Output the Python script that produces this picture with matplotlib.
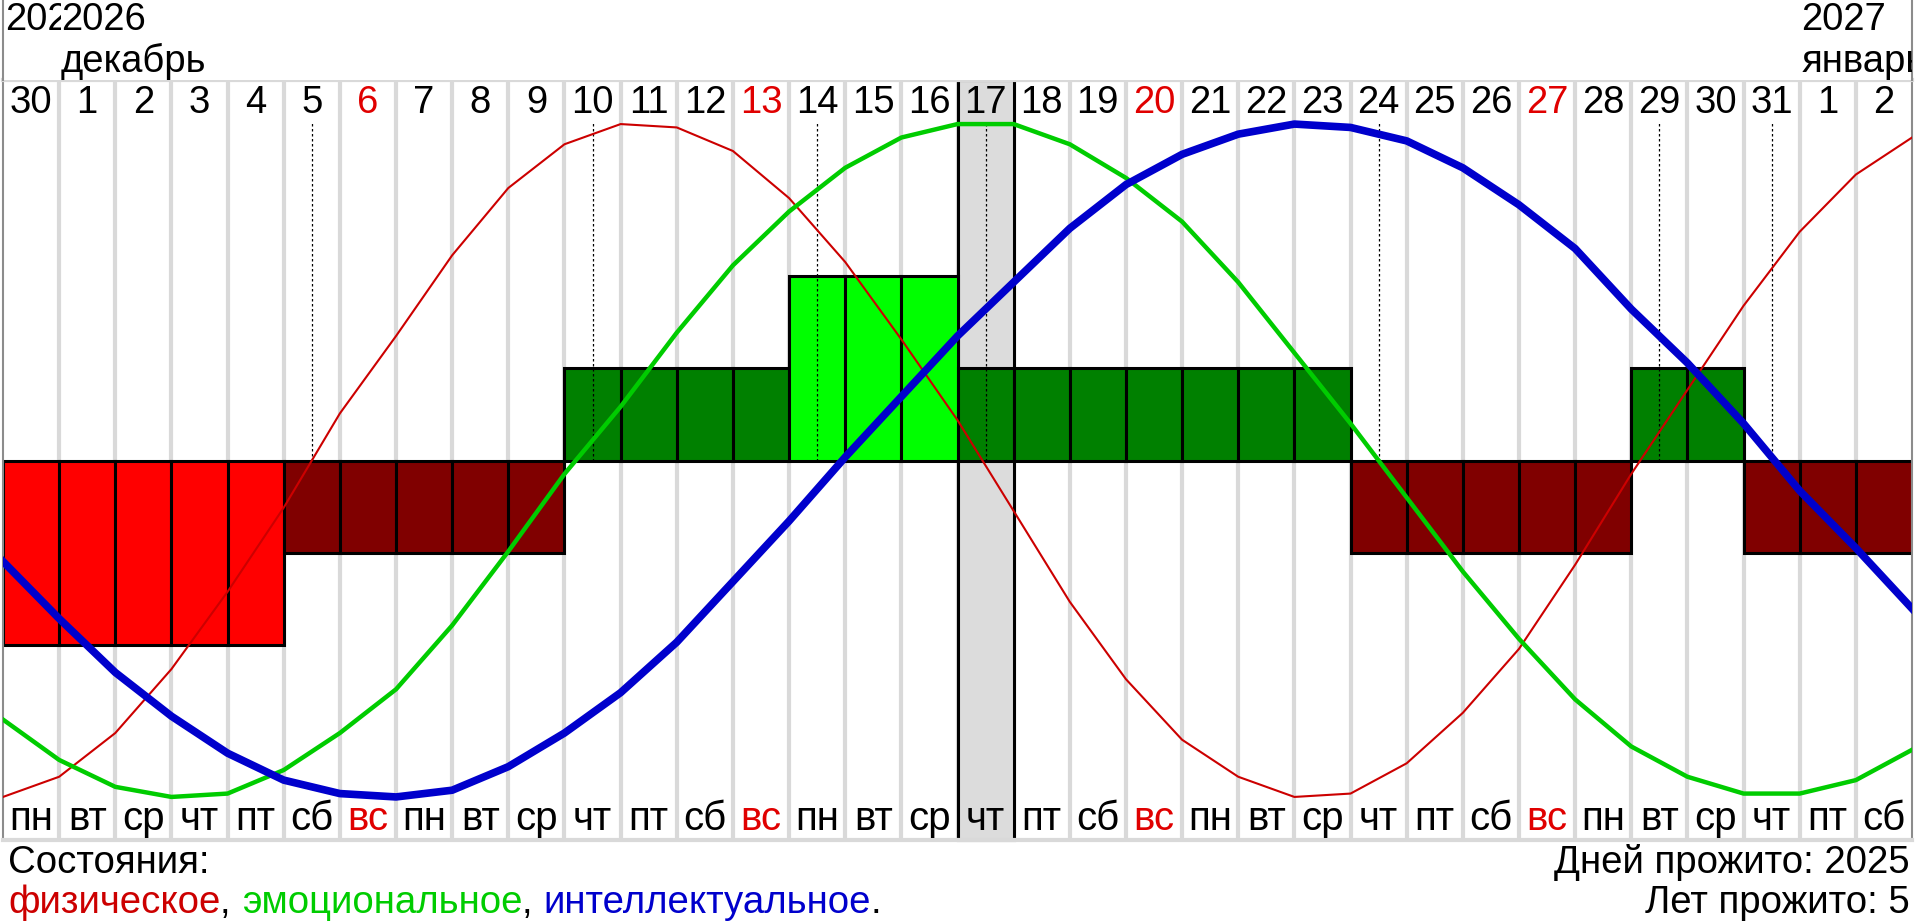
import numpy as np
import matplotlib
matplotlib.use('Agg')
import matplotlib.pyplot as plt

plt.rcParams['font.family'] = ['Liberation Sans', 'DejaVu Sans']

# columns: 30 Nov 2026 .. 2 Jan 2027, today = 17 Dec
days = [30, 1, 2, 3, 4, 5, 6, 7, 8, 9, 10, 11, 12, 13, 14, 15, 16, 17,
        18, 19, 20, 21, 22, 23, 24, 25, 26, 27, 28, 29, 30, 31, 1, 2]
weekdays = ['пн', 'вт', 'ср', 'чт', 'пт', 'сб', 'вс',
            'пн', 'вт', 'ср', 'чт', 'пт', 'сб', 'вс',
            'пн', 'вт', 'ср', 'чт', 'пт', 'сб', 'вс',
            'пн', 'вт', 'ср', 'чт', 'пт', 'сб', 'вс',
            'пн', 'вт', 'ср', 'чт', 'пт', 'сб']
headers = [(0, '2026', ''), (1, '2026', 'декабрь'), (32, '2027', 'январь')]
today = 17
critical = [5, 10, 14, 17, 24, 29, 31]

# state bars per day: -2 all low ... +2 all high
levels = [-2, -2, -2, -2, -2, -1, -1, -1, -1, -1, 1, 1, 1, 1, 2, 2, 2,
          1, 1, 1, 1, 1, 1, 1, -1, -1, -1, -1, -1, 1, 1, -1, -1, -1]

# curves, one value per column boundary
physical = [-1.00, -0.94, -0.81, -0.62, -0.39, -0.14, 0.14, 0.37, 0.61, 0.81,
            0.94, 1.00, 0.99, 0.92, 0.78, 0.59, 0.36, 0.12, -0.15, -0.42,
            -0.65, -0.83, -0.94, -1.00, -0.99, -0.90, -0.75, -0.56, -0.31, -0.04,
            0.21, 0.46, 0.68, 0.85, 0.96]
emotional = [-0.77, -0.89, -0.97, -1.00, -0.99, -0.92, -0.81, -0.68, -0.49, -0.27,
             -0.04, 0.16, 0.38, 0.58, 0.74, 0.87, 0.96, 1.00, 1.00, 0.94,
             0.84, 0.71, 0.53, 0.32, 0.11, -0.11, -0.33, -0.53, -0.71, -0.85,
             -0.94, -0.99, -0.99, -0.95, -0.86]
intellectual = [-0.30, -0.47, -0.63, -0.76, -0.87, -0.95, -0.99, -1.00, -0.98, -0.91,
                -0.81, -0.69, -0.54, -0.36, -0.18, 0.01, 0.19, 0.37, 0.53, 0.69,
                0.82, 0.91, 0.97, 1.00, 0.99, 0.95, 0.87, 0.76, 0.63, 0.45,
                0.29, 0.11, -0.09, -0.26, -0.44]

days_lived = 2025
years_lived = 5

RED = '#cc0000'
GREEN = '#00cc00'
BLUE = '#0000cc'
SUN = '#e00000'
FS = 27.5      # dates / header
FS_WD = 29     # weekday row
FS_LEG = 27.6  # bottom texts
bar_colors = {-2: '#ff0000', -1: '#800000', 1: '#008000', 2: '#00ff00'}
unit = 0.2735

W, H = 1920, 921
fig = plt.figure(figsize=(W / 100, H / 100), dpi=100)
left, right, top, bottom = 3, 1912, 80, 840
ax = fig.add_axes([left / W, (H - bottom) / H, (right - left) / W, (bottom - top) / H])
hx = fig.add_axes([left / W, (H - top) / H, (right - left) / W, top / H])

n = len(days)
for a in (ax, hx):
    a.set_xlim(0, n)
    a.set_xticks([])
    a.set_yticks([])
    for s in ('left', 'right'):
        a.spines[s].set_color('#8c8c8c')
        a.spines[s].set_linewidth(1.5)
ax.set_ylim(-1.128, 1.131)
for s in ('top', 'bottom'):
    ax.spines[s].set_color('#d9d9d9')
    ax.spines[s].set_linewidth(3)
    hx.spines[s].set_visible(False)
hx.set_ylim(0, 1)

for k in range(1, n):
    ax.axvline(k, color='#d9d9d9', lw=3, zorder=1)

ax.axvspan(today, today + 1, facecolor='#dcdcdc', edgecolor='black',
           lw=2.2, zorder=1.5, clip_on=False)

idx = np.arange(n)
ax.bar(idx + 0.5, np.array(levels) * unit, width=1,
       color=[bar_colors[v] for v in levels], edgecolor='black',
       linewidth=2.2, zorder=2)

ax.vlines(np.array(critical) + 0.5, 0, 1.01, colors='black',
          linestyles=(0, (2, 2)), lw=0.9, zorder=2.5)

xk = np.arange(n + 1)
ax.plot(xk, physical, color=RED, lw=1.5, zorder=3)
ax.plot(xk, emotional, color=GREEN, lw=3.2, zorder=4)
ax.plot(xk, intellectual, color=BLUE, lw=5.5, zorder=5)

tr = ax.get_xaxis_transform()
for i, (d, wd) in enumerate(zip(days, weekdays)):
    c = SUN if wd == 'вс' else 'black'
    ax.text(i + 0.5, 0.957, str(d), transform=tr, ha='center', va='baseline',
            fontsize=FS, color=c, zorder=6)
    ax.text(i + 0.5, 0.013, wd, transform=tr, ha='center', va='baseline',
            fontsize=FS_WD, color=c, zorder=6)

htr = hx.get_xaxis_transform()
for col, year, month in headers:
    box = dict(facecolor='white', edgecolor='none', pad=0) if col > 0 else None
    hx.text(col + 0.03, 0.625, year, transform=htr, ha='left', va='baseline',
            fontsize=FS, bbox=box, clip_on=True)
    if month:
        hx.text(col + 0.03, 0.1, month, transform=htr, ha='left', va='baseline',
                fontsize=FS, clip_on=True)

fig.text(8 / W, 1 - 873 / H, 'Состояния:', fontsize=FS_LEG, va='baseline')
fig.text(1910 / W, 1 - 873 / H, f'Дней прожито: {days_lived}', fontsize=FS_LEG,
         ha='right', va='baseline')
fig.text(1910 / W, 1 - 913 / H, f'Лет прожито: {years_lived}', fontsize=FS_LEG,
         ha='right', va='baseline')

pieces = [('физическое', RED), (', ', 'black'), ('эмоциональное', GREEN),
          (', ', 'black'), ('интеллектуальное', BLUE), ('.', 'black')]
prev = fig.text(8 / W, 1 - 913 / H, pieces[0][0], color=pieces[0][1],
                fontsize=FS_LEG, va='baseline')
for txt, c in pieces[1:]:
    prev = ax.annotate(txt, xy=(1, 0), xycoords=prev, ha='left', va='bottom',
                       fontsize=FS_LEG, color=c, annotation_clip=False)

fig.savefig('out.png', dpi=100)
